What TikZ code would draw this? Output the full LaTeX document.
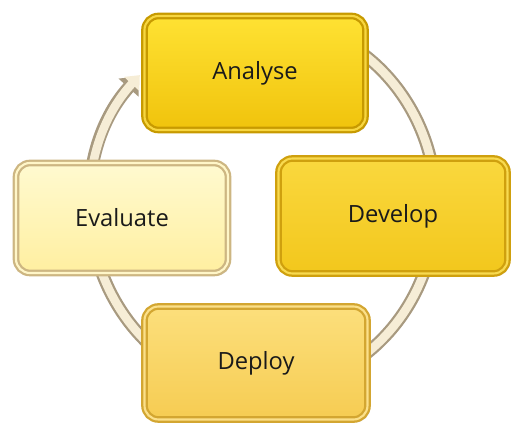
\documentclass[tikz,border=0pt]{standalone}
\usepackage{fontspec}
\setmainfont{Open Sans}
\usetikzlibrary{arrows.meta,backgrounds,shadows,calc}

\definecolor{textdark}{HTML}{1A1A1A}
\definecolor{ringedge}{HTML}{A89A80}
\definecolor{ringfill}{HTML}{F6EDD6}
\definecolor{analyseedge}{HTML}{C79A00}
\definecolor{analyselight}{HTML}{F7D640}
\definecolor{analysetop}{HTML}{FFE233}
\definecolor{analysebot}{HTML}{F0C30C}
\definecolor{developedge}{HTML}{CFA00E}
\definecolor{developlight}{HTML}{F8DA50}
\definecolor{developtop}{HTML}{FAD83E}
\definecolor{developbot}{HTML}{F2C71C}
\definecolor{deployedge}{HTML}{D3A631}
\definecolor{deploylight}{HTML}{FBE08A}
\definecolor{deploytop}{HTML}{FCDF7C}
\definecolor{deploybot}{HTML}{F6CC52}
\definecolor{evaluateedge}{HTML}{CDB682}
\definecolor{evaluatelight}{HTML}{FFF6C8}
\definecolor{evaluatetop}{HTML}{FFFAD0}
\definecolor{evaluatebot}{HTML}{FFEFA0}

\begin{document}
\begin{tikzpicture}
  \tikzstyle{stage}=[rectangle, draw, rounded corners=0.28cm, line width=1.3pt, double distance=1.2pt, minimum width=4.4cm, minimum height=2.26cm, font=\fontsize{13.5}{16}\selectfont, text=textdark, drop shadow={shadow xshift=0.05cm, shadow yshift=-0.05cm, opacity=0.35}]
  \useasboundingbox (0,0) rectangle (10.24,8.46);
  \node[stage, minimum width=4.42cm, minimum height=2.28cm, draw=analyseedge, double=analyselight, top color=analysetop, bottom color=analysebot] (analyse) at (5.10,7.00) {Analyse};
  \node[stage, minimum width=4.58cm, minimum height=2.30cm, draw=developedge, double=developlight, top color=developtop, bottom color=developbot] (develop) at (7.86,4.14) {Develop};
  \node[stage, minimum width=4.46cm, minimum height=2.26cm, draw=deployedge, double=deploylight, top color=deploytop, bottom color=deploybot] (deploy) at (5.12,1.20) {Deploy};
  \node[stage, minimum width=4.24cm, minimum height=2.20cm, draw=evaluateedge, double=evaluatelight, top color=evaluatetop, bottom color=evaluatebot] (evaluate) at (2.44,4.10) {Evaluate};
  % cycle ring behind the stages
  \coordinate (ringcentre) at (5.26,4.36);
  \coordinate (ringstart) at ($(ringcentre)+(125:3.46cm and 3.70cm)$);
  \begin{scope}[on background layer]
    \draw[ringedge, line width=0.26cm, -{Triangle[length=0.30cm, width=0.52cm]}] (ringstart) arc[start angle=125, end angle=-224, x radius=3.46cm, y radius=3.70cm];
    \draw[ringfill, line width=0.17cm, -{Triangle[length=0.24cm, width=0.40cm]}] (ringstart) arc[start angle=125, end angle=-224.6, x radius=3.46cm, y radius=3.70cm];
  \end{scope}
\end{tikzpicture}
\end{document}
